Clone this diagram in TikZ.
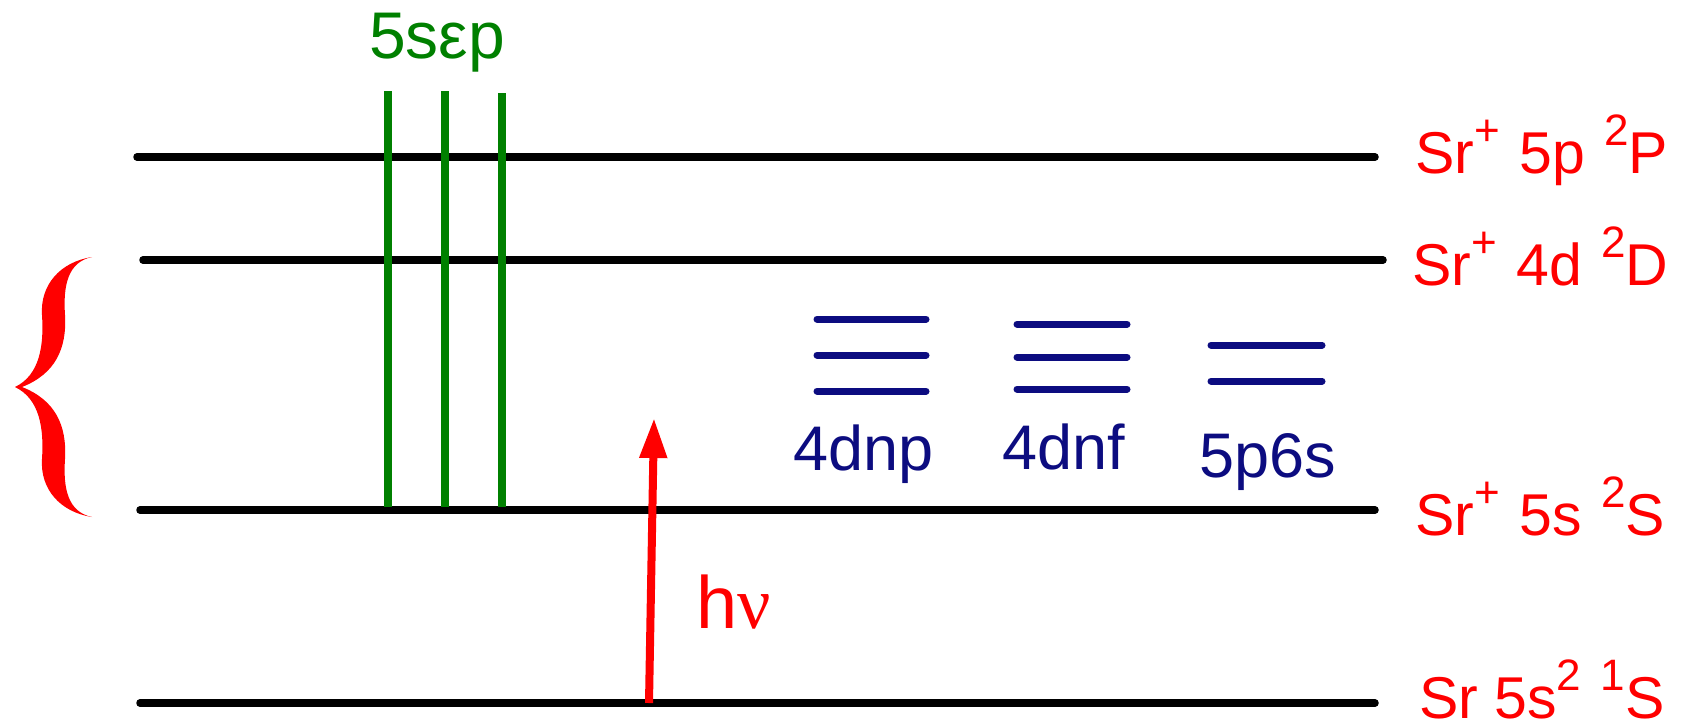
\documentclass[tikz,border=0pt]{standalone}
\usepackage{fontspec}
\setmainfont{Liberation Sans}
\newfontfamily\nufont{Liberation Serif}
\usetikzlibrary{arrows.meta}
\definecolor{lvlgreen}{RGB}{0,128,0}
\definecolor{lvlblue}{RGB}{12,12,128}
\definecolor{lvlred}{RGB}{255,0,0}
\newcommand\upidx[1]{\raisebox{0.47em}{\fontsize{44}{44}\selectfont #1}}
\newcommand\gap{\hspace{0.33em}}
\tikzset{
  level/.style={line width=7.5pt, line cap=round, black},
  cont/.style={line width=8pt, lvlgreen},
  sub/.style={line width=7pt, line cap=round, lvlblue},
  photon/.style={line width=8pt, lvlred, -{Triangle[length=40pt,width=26pt]}},
  redlab/.style={anchor=base west, inner sep=0pt, text=lvlred, font=\fontsize{59}{60}\selectfont},
  bluelab/.style={anchor=base west, inner sep=0pt, text=lvlblue, font=\fontsize{63}{66}\selectfont},
  greenlab/.style={anchor=base west, inner sep=0pt, text=lvlgreen, font=\fontsize{66}{70}\selectfont},
  hvlab/.style={anchor=base west, inner sep=0pt, text=lvlred, font=\fontsize{74}{78}\selectfont},
}
\begin{document}
\begin{tikzpicture}[x=1pt,y=-1pt]
\useasboundingbox (0,0) rectangle (1690,724);
% levels
\coordinate (pL) at (137,157); \coordinate (pR) at (1375,157);
\coordinate (dL) at (143,260); \coordinate (dR) at (1383,260);
\coordinate (sL) at (140,510); \coordinate (sR) at (1375,510);
\coordinate (gL) at (140,703); \coordinate (gR) at (1375,703);
\draw[level] (pL) -- (pR);
\draw[level] (dL) -- (dR);
\draw[level] (sL) -- (sR);
\draw[level] (gL) -- (gR);
% level labels
\node[redlab] (lp) at (1415,173) {Sr\upidx{+}\gap 5p\gap \upidx{2}P};
\node[redlab] (ld) at (1412,285) {Sr\upidx{+}\gap 4d\gap \upidx{2}D};
\node[redlab] (ls) at (1415,535) {Sr\upidx{+}\gap 5s\gap \upidx{2}S};
\node[redlab] (lg) at (1419,718) {Sr 5s\upidx{2}\gap \upidx{1}S};
% continuum lines
\coordinate (c1t) at (388,91);  \coordinate (c1b) at (388,507);
\coordinate (c2t) at (445,91);  \coordinate (c2b) at (445,507);
\coordinate (c3t) at (502,93);  \coordinate (c3b) at (502,507);
\draw[cont] (c1t) -- (c1b);
\draw[cont] (c2t) -- (c2b);
\draw[cont] (c3t) -- (c3b);
\node[greenlab] (cl) at (369,58) {5sεp};
% autoionizing series
\coordinate (a1L) at (817,319); \coordinate (a1R) at (926,319);
\coordinate (a2L) at (817,355); \coordinate (a2R) at (926,355);
\coordinate (a3L) at (817,391); \coordinate (a3R) at (926,391);
\draw[sub] (a1L) -- (a1R);
\draw[sub] (a2L) -- (a2R);
\draw[sub] (a3L) -- (a3R);
\coordinate (f1L) at (1017,324); \coordinate (f1R) at (1127,324);
\coordinate (f2L) at (1017,357); \coordinate (f2R) at (1127,357);
\coordinate (f3L) at (1017,389); \coordinate (f3R) at (1127,389);
\draw[sub] (f1L) -- (f1R);
\draw[sub] (f2L) -- (f2R);
\draw[sub] (f3L) -- (f3R);
\coordinate (e1L) at (1211,345); \coordinate (e1R) at (1322,345);
\coordinate (e2L) at (1211,381); \coordinate (e2R) at (1322,381);
\draw[sub] (e1L) -- (e1R);
\draw[sub] (e2L) -- (e2R);
\node[bluelab] (la) at (793,470) {4dnp};
\node[bluelab] (lf) at (1002,469) {4dnf};
\node[bluelab] (le) at (1199,477) {5p6s};
% photon
\coordinate (hb) at (649,703);
\coordinate (ht) at (654,418);
\draw[photon] (hb) -- (ht);
\node[hvlab] (hv) at (696,628) {h{\nufont ν}};
% brace
\fill[lvlred] (92,257) .. controls (60,262) and (40,285) .. (42,315)
  .. controls (44,345) and (40,375) .. (15,387)
  .. controls (40,399) and (44,429) .. (42,459)
  .. controls (40,489) and (60,512) .. (92,517)
  .. controls (68,512) and (63,489) .. (65,459)
  .. controls (67,425) and (55,400) .. (22,387)
  .. controls (55,374) and (67,349) .. (65,315)
  .. controls (63,285) and (68,262) .. (92,257) -- cycle;
\end{tikzpicture}
\end{document}
